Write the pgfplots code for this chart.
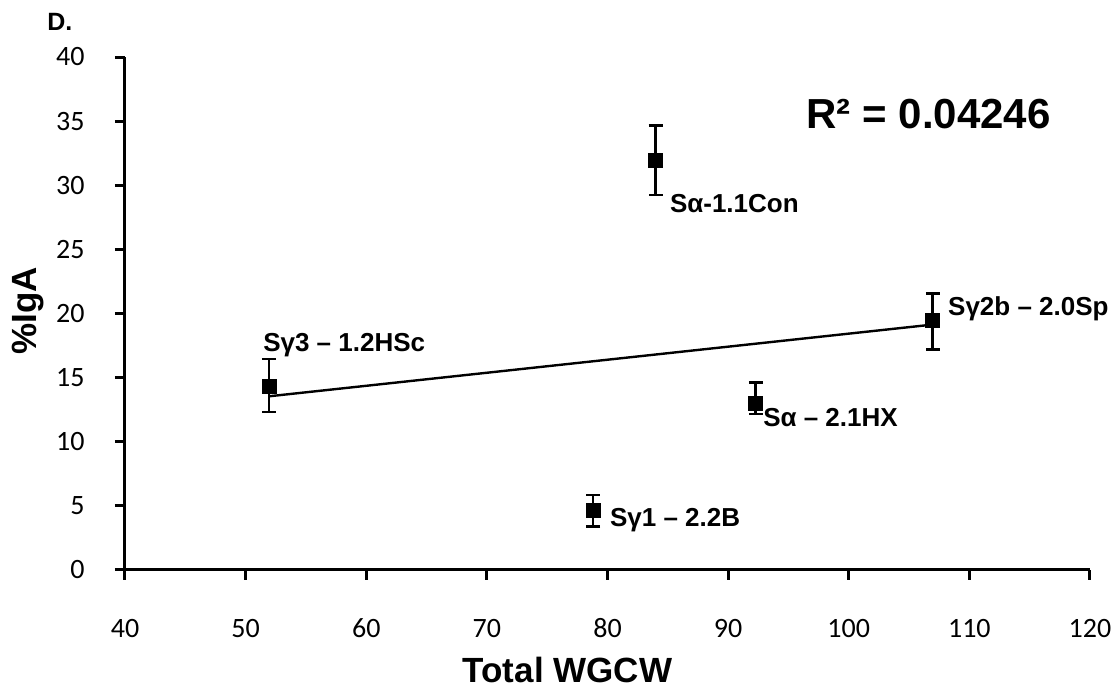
\documentclass[border=0pt]{standalone}
\usepackage{fontspec}
\setmainfont{Carlito}
\newfontfamily\arialf{Liberation Sans}
\usepackage{pgfplots}
\pgfplotsset{compat=1.18}
\usepackage{pgfplotstable}

% total WGCW vs %IgA, errors
\pgfplotstableread{
x      y      ep    em
51.93  14.35  2.10  2.03
84.00  31.91  2.73  2.67
78.80  4.62   1.23  1.24
92.30  13.00  1.64  0.83
106.97 19.49  2.08  2.29
}\iga

\begin{document}
\begin{tikzpicture}
\begin{axis}[
    scale only axis,
    width=482.5pt, height=256.5pt,
    xmin=40, xmax=120, ymin=0, ymax=40,
    xtick={40,50,...,120},
    ytick={0,5,...,40},
    axis x line*=bottom, axis y line*=left,
    axis line style={-, line width=1.5pt},
    tick align=outside,
    major tick length=5pt,
    tick style={line width=1.5pt, black},
    /pgf/number format/assume math mode=true,
    tick label style={font=\fontsize{14}{16}\selectfont},
    xticklabel style={anchor=base, inner sep=0pt, yshift=-29pt},
    yticklabel style={anchor=east, inner sep=0pt, xshift=-15pt},
    xlabel={Total WGCW},
    ylabel={\%IgA},
    label style={font=\arialf\bfseries\fontsize{17.5}{20}\selectfont, inner sep=0pt},
    xlabel style={at={(axis description cs:0.4585,-0.195)}, anchor=center},
    ylabel style={at={(axis description cs:-0.1005,0.505)}, anchor=center},
    clip=false,
]
\addplot[black, line width=1.2pt, no marks] coordinates {(52,13.55) (107,19.14)};
\addplot[black, only marks, mark=square*, mark size=3.5pt,
    error bars/.cd, y dir=both, y explicit,
    error bar style={line width=1.4pt},
    error mark options={line width=1.4pt, mark size=3.5pt, rotate=90}]
    table[x=x, y=y, y error plus=ep, y error minus=em] {\iga};

\begin{scope}[every node/.style={inner sep=0pt, anchor=base west, font=\arialf\bfseries\fontsize{13}{15}\selectfont}]
\node at (axis cs:51.43,17.00) {Sγ3 – 1.2HSc};
\node at (axis cs:85.15,27.91) {Sα-1.1Con};
\node at (axis cs:80.18,3.38) {Sγ1 – 2.2B};
\node at (axis cs:92.88,11.17) {Sα – 2.1HX};
\node at (axis cs:108.21,19.88) {Sγ2b – 2.0Sp};
\end{scope}
\node[inner sep=0pt, anchor=base west, font=\arialf\bfseries\fontsize{21}{24}\selectfont]
    at (axis cs:96.47,34.46) {R² = 0.04246};
\node[inner sep=0pt, anchor=base west, font=\arialf\bfseries\fontsize{12.5}{14}\selectfont]
    at (rel axis cs:-0.0808,1.0526) {D.};
\end{axis}
\pgfresetboundingbox
\path (-62.5pt,-59.5pt) rectangle (497.5pt,285pt);
\end{tikzpicture}
\end{document}
